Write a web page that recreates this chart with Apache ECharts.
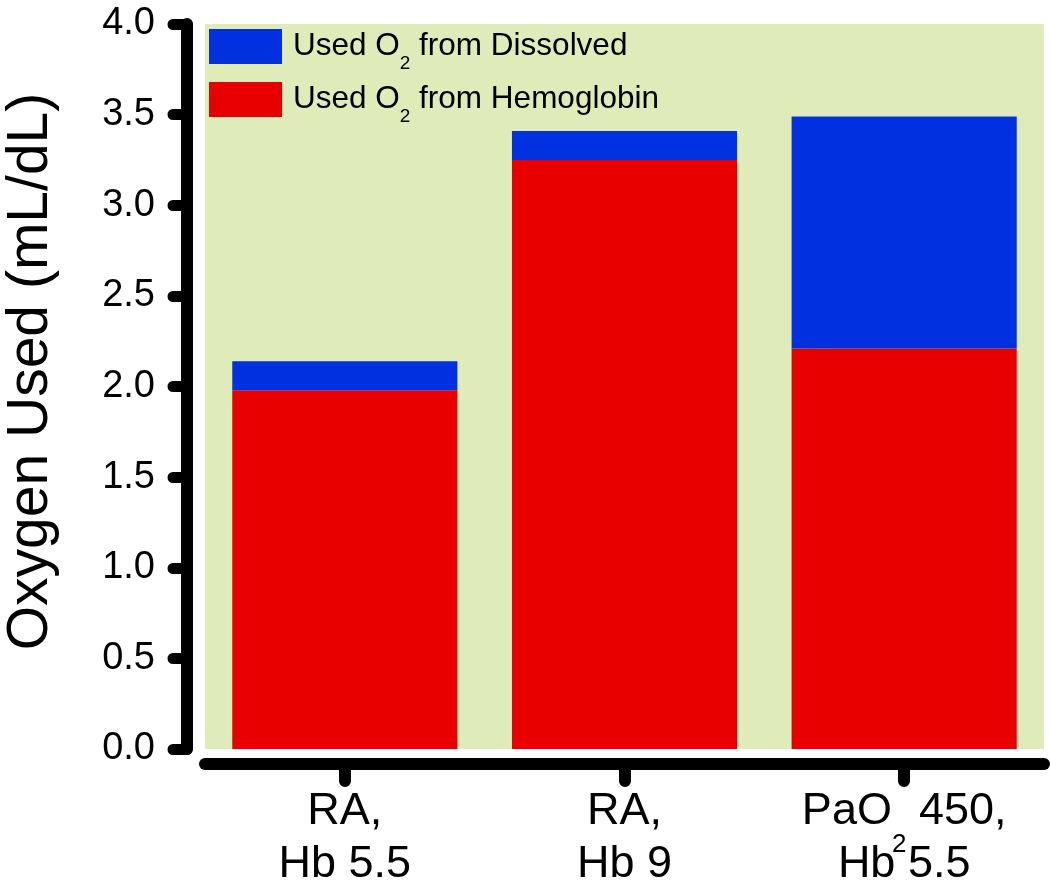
<!DOCTYPE html>
<html>
<head>
<meta charset="utf-8">
<script src="https://cdn.jsdelivr.net/npm/echarts@6/dist/echarts.min.js"></script>
<style>html,body{margin:0;padding:0;background:#fff}#c{width:1050px;height:884px}</style>
</head>
<body>
<div id="c"></div>
<script>
const categories = ['RA,\nHb 5.5', 'RA,\nHb 9', 'PaO2 450,\nHb 5.5'];
const hemoglobin = [1.98, 3.25, 2.21];
const dissolved = [0.16, 0.16, 1.28];
const seriesNames = ['Used O2 from Dissolved', 'Used O2 from Hemoglobin'];
const yTicks = [0, 0.5, 1, 1.5, 2, 2.5, 3, 3.5, 4];

const FONT = '"Liberation Sans", Arial, sans-serif';
const chart = echarts.init(document.getElementById('c'), null, {renderer: 'canvas'});

function xRich(str) {
  return str.split('\n').map(l => {
    if (l.indexOf('O2') >= 0) {
      const p = l.split('O2');
      return '{a|' + p[0] + 'O}{s|2}{a|' + p[1] + '}';
    }
    return '{a|' + l + '}';
  }).join('\n');
}

chart.setOption({
  animation: false,
  backgroundColor: '#ffffff',
  grid: {
    left: 205, right: 6, top: 24, bottom: 135,
    outerBoundsMode: 'none',
    containLabel: false,
    show: true, backgroundColor: '#dfebb9', borderWidth: 0
  },
  legend: {
    data: seriesNames,
    orient: 'vertical',
    left: 209, top: 29,
    padding: 0,
    itemWidth: 73, itemHeight: 35, itemGap: 9,
    icon: 'rect',
    selectedMode: false,
    formatter: function (name) {
      const p = name.split('O2');
      return '{a|' + p[0] + 'O}{s|2}{a|' + p[1] + '}';
    },
    textStyle: {
      padding: [0, 0, 0, 6],
      rich: {
        a: {fontFamily: FONT, fontSize: 31.5, color: '#000', lineHeight: 35},
        s: {fontFamily: FONT, fontSize: 19, color: '#000', lineHeight: 18,
            verticalAlign: 'bottom', padding: [0, 0, -9, 0]}
      }
    }
  },
  xAxis: {
    type: 'category',
    data: categories,
    offset: 15,
    axisLine: {show: true, onZero: false, lineStyle: {color: '#000', width: 12, cap: 'round'}},
    axisTick: {show: true, interval: 0, alignWithLabel: true, inside: false, length: 17,
               lineStyle: {color: '#000', width: 12, cap: 'round'}},
    axisLabel: {
      margin: 21,
      interval: 0,
      formatter: function (v) { return xRich(v); },
      rich: {
        a: {fontFamily: FONT, fontSize: 45, color: '#000', lineHeight: 53, align: 'center'},
        s: {fontFamily: FONT, fontSize: 26, color: '#000', lineHeight: 24,
            verticalAlign: 'bottom', padding: [0, 0, -20, 0]}
      }
    },
    splitLine: {show: false}
  },
  yAxis: {
    type: 'value',
    min: 0, max: 4, interval: 0.5,
    offset: 18,
    name: 'Oxygen Used (mL/dL)',
    nameLocation: 'middle',
    nameGap: 127,
    nameTextStyle: {fontFamily: FONT, fontSize: 57, color: '#000', padding: [0, 0, 0, 30]},
    axisLine: {show: true, lineStyle: {color: '#000', width: 12, cap: 'round'}},
    axisTick: {show: true, length: 14, lineStyle: {color: '#000', width: 11, cap: 'round'}},
    axisLabel: {
      margin: 32,
      fontFamily: FONT, fontSize: 38, color: '#000',
      formatter: function (v) { return v.toFixed(1); }
    },
    splitLine: {show: false}
  },
  series: [
    {
      name: seriesNames[1], type: 'bar', stack: 'o2',
      data: hemoglobin, barWidth: '80.5%',
      itemStyle: {color: '#e80000'}
    },
    {
      name: seriesNames[0], type: 'bar', stack: 'o2',
      data: dissolved, barWidth: '80.5%',
      itemStyle: {color: '#0030e0'}
    }
  ]
});
</script>
</body>
</html>
